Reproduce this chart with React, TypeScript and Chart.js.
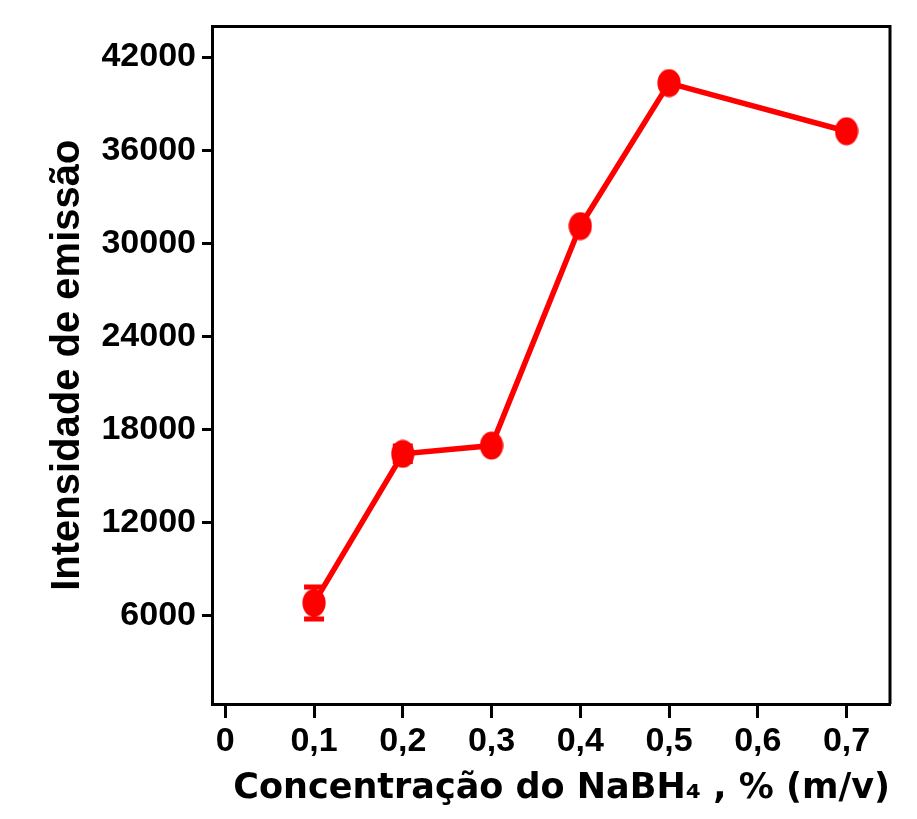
import React, { useEffect, useRef } from "react";
import { Chart, registerables } from "chart.js";

Chart.register(...registerables);

// ---- data ----
const concentrations = [0.1, 0.2, 0.3, 0.4, 0.5, 0.7];
const intensities = [6835, 16440, 16970, 31110, 40320, 37220];
const errors = [1030, 500, 0, 0, 0, 0];

const xTickValues = [0, 0.1, 0.2, 0.3, 0.4, 0.5, 0.6, 0.7];
const xTickLabels = ["0", "0,1", "0,2", "0,3", "0,4", "0,5", "0,6", "0,7"];
const yTickValues = [6000, 12000, 18000, 24000, 30000, 36000, 42000];
const yTickLabels = ["6000", "12000", "18000", "24000", "30000", "36000", "42000"];

const xTitle = "Concentração do NaBH₄ , % (m/v)";
const yTitle = "Intensidade de emissão";

const RED = "#ff0000";
const ARIAL = "'Liberation Sans', Arial, Helvetica, sans-serif";

function makeEllipse(): HTMLCanvasElement {
  const c = document.createElement("canvas");
  c.width = 24;
  c.height = 29;
  const g = c.getContext("2d")!;
  g.fillStyle = RED;
  g.beginPath();
  g.ellipse(12, 14.5, 11.6, 14, 0, 0, Math.PI * 2);
  g.fill();
  return c;
}

const errorBarPlugin = {
  id: "errorBars",
  beforeDatasetsDraw(chart: any) {
    const { ctx, scales } = chart;
    const xs = scales.x;
    const ys = scales.y;
    ctx.save();
    ctx.strokeStyle = RED;
    ctx.lineWidth = 5;
    concentrations.forEach((c, i) => {
      const e = errors[i];
      if (!e) return;
      const px = xs.getPixelForValue(c);
      const top = ys.getPixelForValue(intensities[i] + e);
      const bot = ys.getPixelForValue(intensities[i] - e);
      ctx.beginPath();
      ctx.moveTo(px, top);
      ctx.lineTo(px, bot);
      ctx.moveTo(px - 10, top);
      ctx.lineTo(px + 10, top);
      ctx.moveTo(px - 10, bot);
      ctx.lineTo(px + 10, bot);
      ctx.stroke();
    });
    ctx.restore();
  },
};

const framePlugin = {
  id: "frame",
  beforeDatasetsDraw(chart: any) {
    const { ctx, chartArea } = chart;
    ctx.save();
    ctx.strokeStyle = "#000";
    ctx.lineWidth = 3;
    ctx.beginPath();
    ctx.moveTo(chartArea.left, chartArea.top);
    ctx.lineTo(chartArea.right, chartArea.top);
    ctx.lineTo(chartArea.right, chartArea.bottom);
    ctx.stroke();
    ctx.restore();
  },
};

export default function App() {
  const ref = useRef<HTMLCanvasElement | null>(null);

  useEffect(() => {
    if (!ref.current) return;
    const marker = makeEllipse();
    const chart = new Chart(ref.current, {
      type: "line",
      data: {
        datasets: [
          {
            data: concentrations.map((c, i) => ({ x: c, y: intensities[i] })),
            borderColor: RED,
            backgroundColor: RED,
            borderWidth: 5.5,
            pointStyle: marker as any,
            pointRadius: 12,
            tension: 0,
          },
        ],
      },
      options: {
        animation: false,
        responsive: false,
        maintainAspectRatio: false,
        layout: { padding: { top: 25, right: 27, left: 0, bottom: 0 } },
        plugins: {
          legend: { display: false },
          tooltip: { enabled: false },
        },
        scales: {
          x: {
            type: "linear",
            min: -0.015,
            max: 0.749,
            afterBuildTicks: (s: any) => {
              s.ticks = xTickValues.map((v) => ({ value: v }));
            },
            afterFit: (s: any) => {
              s.height = 115;
            },
            ticks: {
              color: "#000",
              font: { family: ARIAL, size: 34, weight: "bold" },
              padding: 3,
              maxRotation: 0,
              autoSkip: false,
              callback: (v: any) => {
                const i = xTickValues.findIndex((t) => Math.abs(t - v) < 1e-9);
                return i >= 0 ? xTickLabels[i] : "";
              },
            },
            grid: {
              display: true,
              drawOnChartArea: false,
              drawTicks: true,
              tickLength: 14,
              tickWidth: 3,
              tickColor: "#000",
            },
            border: { display: true, color: "#000", width: 3 },
            title: {
              display: true,
              text: xTitle,
              align: "end",
              color: "#000",
              font: { family: "'DejaVu Sans', sans-serif", size: 35, weight: "bold" },
              padding: { top: 0, bottom: 9 },
            },
          },
          y: {
            type: "linear",
            min: 324,
            max: 43974,
            afterBuildTicks: (s: any) => {
              s.ticks = yTickValues.map((v) => ({ value: v }));
            },
            afterFit: (s: any) => {
              s.width = 212;
            },
            ticks: {
              color: "#000",
              font: { family: ARIAL, size: 34, weight: "bold" },
              padding: 6,
              autoSkip: false,
              callback: (v: any) => {
                const i = yTickValues.indexOf(v);
                return i >= 0 ? yTickLabels[i] : "";
              },
            },
            grid: {
              display: true,
              drawOnChartArea: false,
              drawTicks: true,
              tickLength: 10,
              tickWidth: 3,
              tickColor: "#000",
            },
            border: { display: true, color: "#000", width: 3 },
            title: {
              display: true,
              text: yTitle,
              color: "#000",
              font: { family: ARIAL, size: 40, weight: "bold" },
              padding: { top: 44, bottom: 0 },
            },
          },
        },
      },
      plugins: [errorBarPlugin, framePlugin],
    });
    return () => chart.destroy();
  }, []);

  return (
    <div style={{ position: "absolute", left: 0, top: 0, width: 917, height: 819, background: "#fff" }}>
      <canvas ref={ref} width={917} height={819} style={{ width: 917, height: 819, display: "block" }} />
    </div>
  );
}
